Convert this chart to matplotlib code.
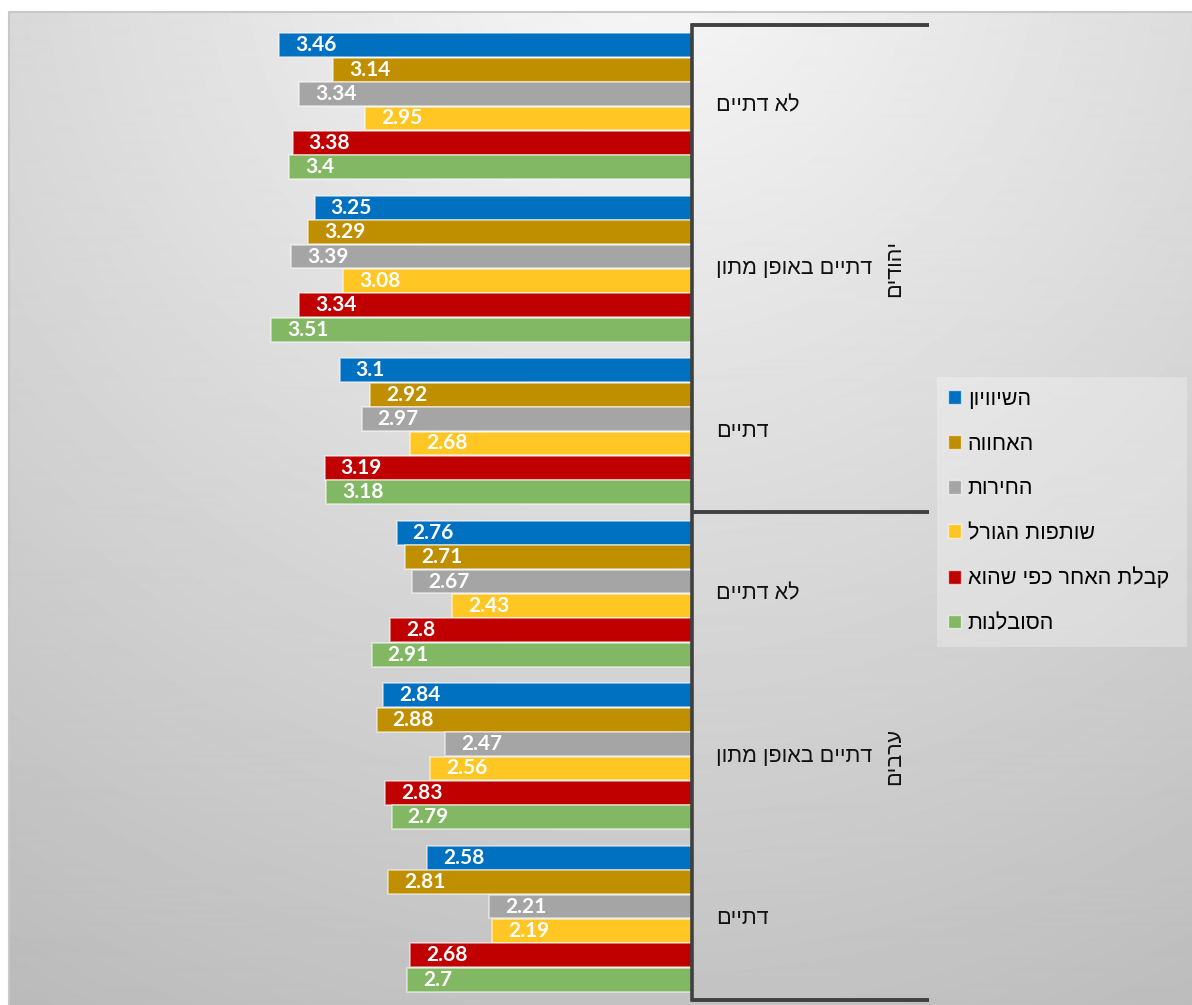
import numpy as np
import matplotlib
matplotlib.use("Agg")
import matplotlib.pyplot as plt
from matplotlib.patches import Patch, Rectangle

# ---------------- data ----------------
groups = ["יהודים", "ערבים"]
categories = ["לא דתיים", "דתיים באופן מתון", "דתיים",
              "לא דתיים", "דתיים באופן מתון", "דתיים"]
series_names = ["השיוויון", "האחווה", "החירות", "שותפות הגורל",
                "קבלת האחר כפי שהוא", "הסובלנות"]
equality   = [3.46, 3.25, 3.10, 2.76, 2.84, 2.58]
fraternity = [3.14, 3.29, 2.92, 2.71, 2.88, 2.81]
freedom    = [3.34, 3.39, 2.97, 2.67, 2.47, 2.21]
shared     = [2.95, 3.08, 2.68, 2.43, 2.56, 2.19]
acceptance = [3.38, 3.34, 3.19, 2.80, 2.83, 2.68]
tolerance  = [3.40, 3.51, 3.18, 2.91, 2.79, 2.70]
series = [equality, fraternity, freedom, shared, acceptance, tolerance]
colors = ["#0070C0", "#BF8F00", "#A5A5A5", "#FFC624", "#C00000", "#82B864"]

def rtl(s):
    return s[::-1]

HEB = ["Liberation Sans", "DejaVu Sans"]
W, H = 1192, 1005
fig = plt.figure(figsize=(W / 100, H / 100), dpi=100)
fig.patch.set_facecolor("white")

# ---------------- background gradient ----------------
bx0, by1 = 9, 12
bg = fig.add_axes([bx0 / W, 0, 1 - bx0 / W, 1 - by1 / H], zorder=0)
yy, xx = np.mgrid[0:H - by1, 0:W - bx0]
xx = xx + bx0
yy = yy + by1
d = np.sqrt((xx - 640) ** 2 + (yy + 60) ** 2)
val = np.clip(248 - 0.05 * d, 185, 250) / 255.0
bg.imshow(val, cmap="gray", vmin=0, vmax=1, aspect="auto",
          extent=[0, 1, 0, 1], interpolation="bilinear")
bg.set_xlim(0, 1); bg.set_ylim(0, 1)
for s in bg.spines.values():
    s.set_visible(False)
bg.plot([0, 0, 1], [0, 1, 1], color="#c8c8c8", lw=1.5,
        transform=bg.transAxes, clip_on=False)
bg.set_xticks([]); bg.set_yticks([])

# ---------------- main axes ----------------
left_px, right_px, top_px, bot_px = 21, 692, 25, 1000
ax = fig.add_axes([left_px / W, 1 - bot_px / H, (right_px - left_px) / W,
                   (bot_px - top_px) / H], zorder=2)
ax.patch.set_alpha(0)

n_ser = len(series)
bh = 0.15
ypos = np.arange(len(categories))
for j, (vals, c) in enumerate(zip(series, colors)):
    y = ypos + (j - (n_ser - 1) / 2) * bh
    ax.barh(y, vals, height=bh * 0.97, color=c,
            edgecolor=(1, 1, 1, 0.55), linewidth=1.2, zorder=3)
    for yi, v in zip(y, vals):
        ax.annotate(f"{v:g}", xy=(v, yi), xytext=(11.5, 0),
                    textcoords="offset points", ha="left", va="center",
                    color="white", fontsize=15, fontweight="bold",
                    family=["Lato", "DejaVu Sans"], zorder=4)

ax.set_xlim(5, 1)
ax.set_ylim(len(categories) - 0.5, -0.5)
ax.set_xticks([]); ax.set_yticks([])
for k in ["top", "bottom", "left"]:
    ax.spines[k].set_visible(False)
ax.spines["right"].set_color("#404040")
ax.spines["right"].set_linewidth(2.6)
ax.spines["right"].set_zorder(6)

tr = ax.get_yaxis_transform()
ax_w = right_px - left_px
lab_x = (716 - left_px) / ax_w
grp_x = (895 - left_px) / ax_w
line_end = (929 - left_px) / ax_w

for i, cat in enumerate(categories):
    ax.text(lab_x, i, rtl(cat), transform=tr, ha="left", va="center",
            fontsize=15.5, color="#111111", family=HEB)

for g, name in enumerate(groups):
    ax.text(grp_x, 3 * g + 1, rtl(name), transform=tr, ha="center",
            va="center", rotation=90, fontsize=15.5, color="#111111",
            family=HEB)

for yl in [-0.5, 2.5, 5.5]:
    ax.plot([1, line_end], [yl, yl], transform=tr, color="#404040",
            lw=2.8, clip_on=False, solid_capstyle="butt", zorder=6)

# ---------------- legend ----------------
fig.add_artist(Rectangle((937 / W, 1 - 647 / H), 250 / W, 270 / H,
                         transform=fig.transFigure, facecolor=(1, 1, 1, 0.28),
                         edgecolor="none", zorder=3))
handles = [Patch(facecolor=c, edgecolor=(1, 1, 1, 0.6), linewidth=1.0)
           for c in colors]
labels = [rtl(s) for s in series_names]
leg = fig.legend(handles, labels, loc="upper left",
                 bbox_to_anchor=(948 / W, 1 - 389 / H),
                 prop={"family": HEB, "size": 15.5},
                 frameon=False, handlelength=0.62,
                 handleheight=0.62, handletextpad=0.3,
                 labelspacing=1.1, borderpad=0, borderaxespad=0)
leg.set_zorder(5)

fig.savefig("out.png", dpi=100, facecolor=fig.get_facecolor())
